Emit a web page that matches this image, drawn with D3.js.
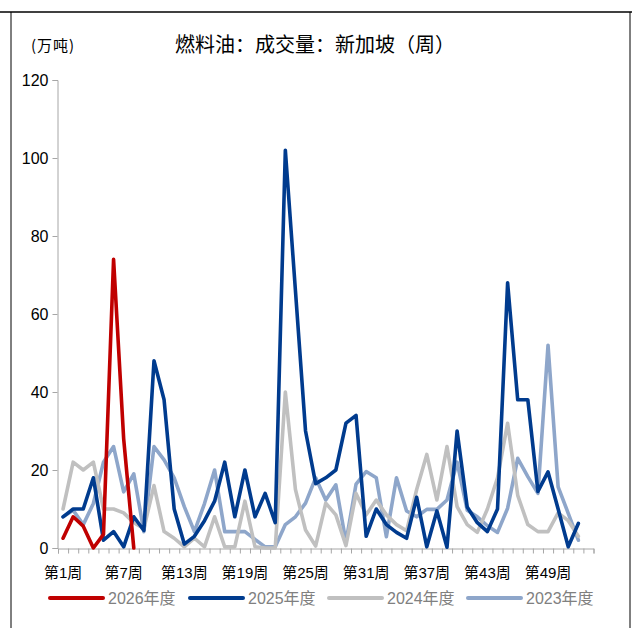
<!DOCTYPE html>
<html><head><meta charset="utf-8">
<script src="https://cdn.jsdelivr.net/npm/d3@7/dist/d3.min.js"></script>
<style>body{margin:0;background:#fff} svg{display:block}</style>
</head><body>
<svg id="c" width="632" height="628"></svg>
<script>
// ---- data ----
const weeks = d3.range(1, 54);               // 53 category slots (第1周 … 第53周)
const yTicks = [0, 20, 40, 60, 80, 100, 120];
const xLabelWeeks = [1, 7, 13, 19, 25, 31, 37, 43, 49];
const seriesNames = ["2026年度", "2025年度", "2024年度", "2023年度"];
const seriesColors = ["#C00000", "#003B8E", "#C0C0C0", "#8EA6CA"];
const v2026 = [2.5, 8, 5.6, 0, 3.5, 74, 28, 0];
const v2025 = [8, 10, 10, 18, 2, 4.2, 0.3, 8, 4.5, 48, 38, 10, 1, 3, 7, 12, 22, 8, 20, 8, 14, 6.5, 102, 66, 30, 16.5, 18, 20, 32, 34, 3, 10, 6, 4, 2.5, 13, 0.3, 9.5, 0.2, 30, 10.5, 6.5, 4.2, 10, 68, 38, 38, 14.5, 19.5, 10, 0.3, 6.3];
const v2024 = [10, 22, 20, 22, 10, 10, 9, 6.5, 5, 16, 4.2, 2.5, 0.3, 2.5, 0.3, 8, 0.3, 0.3, 12, 0.3, 0, 0, 40, 15, 4.6, 0.5, 11.5, 8.5, 0.6, 14, 8.5, 12.3, 8.5, 6, 4.4, 15, 24, 12.3, 26, 10.6, 6, 4, 10, 18, 32, 13.5, 6, 4.2, 4.2, 9, 7, 3];
const v2023 = [8, 9.7, 6, 11.4, 22, 26, 14.4, 19, 4.2, 26, 22.6, 18, 10.6, 4.2, 11.4, 20, 4.2, 4.2, 4.2, 2.2, 0.3, 0.3, 6, 8, 11.5, 18, 12.3, 16.2, 1.5, 16.4, 19.6, 18, 2.9, 18, 9.5, 8, 9.9, 9.9, 12.3, 22, 9.7, 8, 5.7, 4, 10.2, 23, 18.3, 14, 52, 15.7, 8.9, 2];
const seriesValues = [v2026, v2025, v2024, v2023];

// ---- chart ----
const svg = d3.select("#c");
const W = 632, H = 628;
const x = d3.scaleBand().domain(weeks).range([58, 593.5]).padding(0);
const xEdge = d3.scaleLinear().domain([0, weeks.length]).range([58, 593.5]);
const y = d3.scaleLinear().domain([0, 120]).range([548, 80]);
const cjk = "'Liberation Sans', 'Noto Sans CJK SC', sans-serif";

// frame
svg.append("line").attr("x1", 0).attr("x2", W).attr("y1", 12).attr("y2", 12)
  .attr("stroke", "#000").attr("stroke-width", 1.5);
svg.append("line").attr("x1", 11).attr("x2", 11).attr("y1", 12).attr("y2", H)
  .attr("stroke", "#000").attr("stroke-width", 1);
svg.append("line").attr("x1", 630).attr("x2", 630).attr("y1", 12).attr("y2", H)
  .attr("stroke", "#000").attr("stroke-width", 1);

// title & unit
svg.append("text").attr("x", 315).attr("y", 52).attr("text-anchor", "middle")
  .attr("font-family", "'Noto Sans CJK SC', sans-serif").attr("font-size", 20)
  .attr("fill", "#000").text("燃料油：成交量：新加坡（周）");
svg.append("text").attr("x", 31).attr("y", 51)
  .attr("font-family", "'Noto Sans CJK SC', sans-serif").attr("font-size", 15)
  .attr("letter-spacing", 1).attr("fill", "#000").text("(万吨)");

// y axis
const yAxis = svg.append("g").attr("transform", "translate(57.5,0)")
  .call(d3.axisLeft(y).tickValues(yTicks).tickSize(5).tickPadding(4));
yAxis.select(".domain").attr("stroke", "#A6A6A6");
yAxis.selectAll(".tick line").attr("stroke", "#A6A6A6");
yAxis.selectAll("text").attr("font-family", "'Liberation Sans', Arial, sans-serif")
  .attr("font-size", 16).attr("fill", "#000");

// x axis (ticks on category boundaries)
const xAxis = svg.append("g").attr("transform", "translate(0,548.5)")
  .call(d3.axisBottom(xEdge).tickValues(d3.range(0, weeks.length + 1)).tickSize(5).tickFormat(""));
xAxis.select(".domain").attr("stroke", "#A6A6A6");
xAxis.selectAll(".tick line").attr("stroke", "#A6A6A6");

svg.append("g").selectAll("text").data(xLabelWeeks).join("text")
  .attr("x", d => x(d) + x.bandwidth() / 2).attr("y", 578)
  .attr("text-anchor", "middle").attr("font-family", cjk).attr("font-size", 15)
  .attr("fill", "#000").text(d => "第" + d + "周");

// lines
const line = d3.line().x((d, i) => x(weeks[i]) + x.bandwidth() / 2).y(d => y(d));
const order = [3, 2, 1, 0];
svg.append("g").selectAll("path").data(order).join("path")
  .attr("d", k => line(seriesValues[k]))
  .attr("fill", "none").attr("stroke", k => seriesColors[k])
  .attr("stroke-width", 3.6).attr("stroke-linejoin", "round").attr("stroke-linecap", "round");

// legend
const legX = [50, 190, 329, 468];
const leg = svg.append("g").selectAll("g").data(seriesNames).join("g")
  .attr("transform", (d, i) => `translate(${legX[i]},598)`);
leg.append("line").attr("x1", 0).attr("x2", 53).attr("y1", 0).attr("y2", 0)
  .attr("stroke", (d, i) => seriesColors[i]).attr("stroke-width", 4).attr("stroke-linecap", "round");
leg.append("text").attr("x", 58).attr("y", 6).attr("font-family", cjk).attr("font-size", 16)
  .attr("fill", "#808080").text(d => d);
</script>
</body></html>
